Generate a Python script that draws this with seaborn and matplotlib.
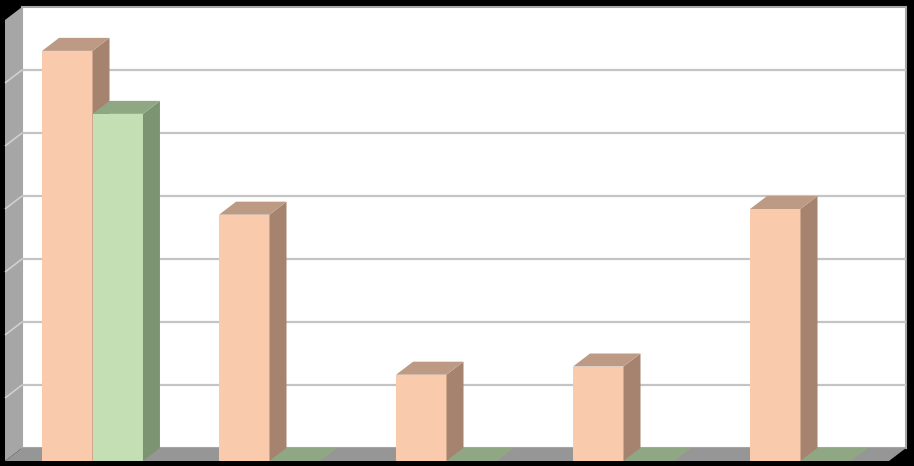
import pandas as pd
import matplotlib
matplotlib.use("Agg")
import matplotlib.pyplot as plt
from matplotlib.patches import Polygon
import seaborn as sns

# Values, the category and series names are not shown in it
categories = ["A", "B", "C", "D", "E"]
series_one = [6.51, 3.91, 1.37, 1.50, 4.00]
series_two = [5.51, 0, 0, 0, 0]
grid_values = [1, 2, 3, 4, 5, 6, 7]

one_colors = {"front": "#F9CBAC", "side": "#A5836E", "top": "#BC9A84"}
two_colors = {"front": "#C5DFB4", "side": "#7D9473", "top": "#8FA883"}

df = pd.DataFrame({"category": categories * 2,
                   "series": ["one"] * 5 + ["two"] * 5,
                   "value": series_one + series_two})

sns.set_style("white")
fig = plt.figure(figsize=(9.14, 4.66), dpi=100, facecolor="black")
ax = fig.add_axes([0, 0, 1, 1])

# one category is 177 px wide, one unit is 63 px high
px_x = 1 / 177
px_y = 1 / 63
depth_x = 17 * px_x
depth_y = 13 * px_y
left = -87.5 * px_x
right = 796.5 * px_x
top = grid_values[-1]

sns.barplot(data=df, x="category", y="value", hue="series", ax=ax, width=0.57,
            palette={"one": one_colors["front"], "two": two_colors["front"]},
            saturation=1, legend=False, zorder=5, linewidth=0)
ax.set_xlim(-92.5 * px_x, 821.5 * px_x)
ax.set_ylim(-5 * px_y, 461 * px_y)
ax.axis("off")

# back wall, side wall and floor
ax.add_patch(Polygon([(left + depth_x, depth_y), (right + depth_x, depth_y),
                      (right + depth_x, top + depth_y), (left + depth_x, top + depth_y)],
                     fc="white", ec="#A6A6A6", lw=1.5, zorder=1))
ax.add_patch(Polygon([(left, 0), (left + depth_x, depth_y),
                      (left + depth_x, top + depth_y), (left, top)],
                     fc="#A6A6A6", ec="none", zorder=2))
ax.add_patch(Polygon([(left, 0), (right, 0), (right + depth_x, depth_y), (left + depth_x, depth_y)],
                     fc="#969696", ec="none", zorder=2))

for v in grid_values[:-1]:
    ax.plot([left + depth_x, right + depth_x], [v + depth_y, v + depth_y],
            color="#C4C4C4", lw=1.6, zorder=3, solid_capstyle="butt")
    ax.plot([left, left + depth_x], [v, v + depth_y],
            color="#D0D0D0", lw=1.2, zorder=3, solid_capstyle="butt")

# side and top faces of the bars, taken from the bars seaborn drew
for container, colors in zip(ax.containers, [one_colors, two_colors]):
    z = 5 if colors is one_colors else 6
    for bar in container:
        bar.set_zorder(z)
        x0 = bar.get_x()
        x1 = x0 + bar.get_width()
        h = bar.get_height()
        ax.add_patch(Polygon([(x1, 0), (x1 + depth_x, depth_y), (x1 + depth_x, h + depth_y), (x1, h)],
                             fc=colors["side"], ec="none", zorder=z))
        ax.add_patch(Polygon([(x0, h), (x1, h), (x1 + depth_x, h + depth_y), (x0 + depth_x, h + depth_y)],
                             fc=colors["top"], ec="none", zorder=z))

fig.savefig("out.png", dpi=100, facecolor="black")
